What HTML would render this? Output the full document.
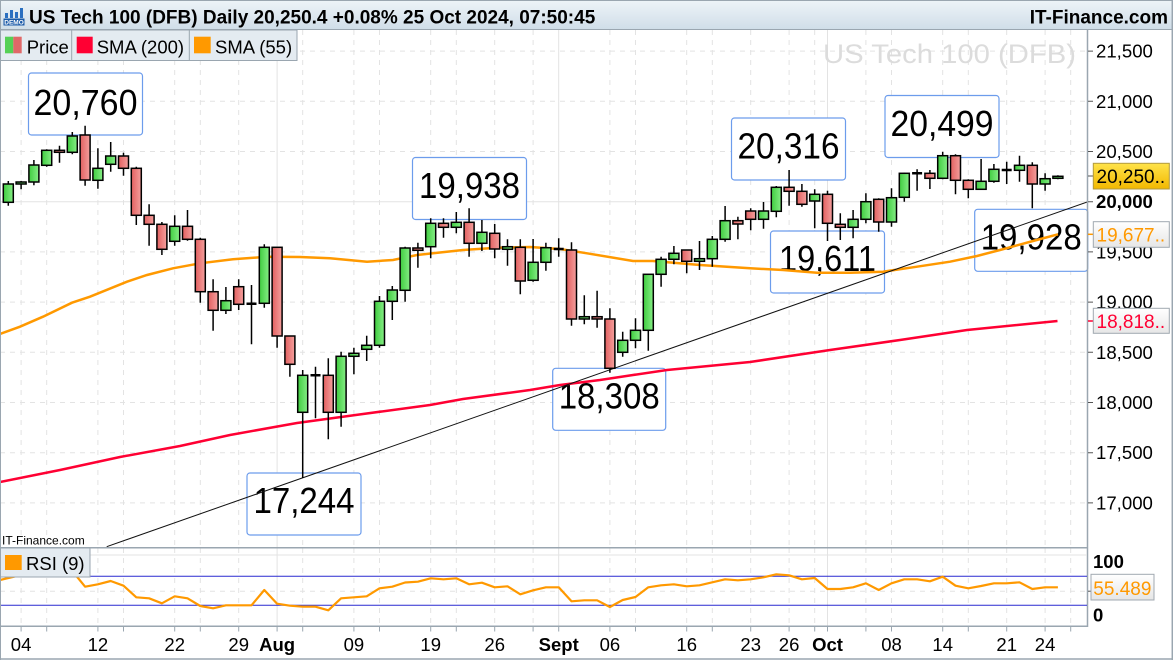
<!DOCTYPE html>
<html><head><meta charset="utf-8"><style>
html,body{margin:0;padding:0;background:#fff;}
svg{display:block;}
</style></head><body>
<svg width="1173" height="660" viewBox="0 0 1173 660" xmlns="http://www.w3.org/2000/svg" font-family="'Liberation Sans', Arial, sans-serif">
<defs>
<linearGradient id="hdr" x1="0" y1="0" x2="0" y2="1"><stop offset="0" stop-color="#eef4f8"/><stop offset="1" stop-color="#cfdde8"/></linearGradient>
<linearGradient id="gc" x1="0" y1="0" x2="1" y2="0"><stop offset="0" stop-color="#3fcc3f"/><stop offset="1" stop-color="#86ee86"/></linearGradient>
<linearGradient id="rc" x1="0" y1="0" x2="1" y2="0"><stop offset="0" stop-color="#e26060"/><stop offset="1" stop-color="#f4a09e"/></linearGradient>
<linearGradient id="yb" x1="0" y1="0" x2="0" y2="1"><stop offset="0" stop-color="#ffe34a"/><stop offset="1" stop-color="#f2b800"/></linearGradient>
<linearGradient id="wb" x1="0" y1="0" x2="0" y2="1"><stop offset="0" stop-color="#ffffff"/><stop offset="1" stop-color="#e6e6e6"/></linearGradient>
<clipPath id="cp"><rect x="0" y="30" width="1088" height="517.5"/></clipPath>
<clipPath id="cr"><rect x="0" y="548" width="1087" height="78"/></clipPath>
</defs>
<rect x="0" y="0" width="1173" height="660" fill="#fff"/>

<!-- price grid -->
<g clip-path="url(#cp)" stroke="#e3e3e3" stroke-width="1" fill="none">
<g stroke-dasharray="5 5">
<path d="M0 51.1H1088M0 101.3H1088M0 151.5H1088M0 251.9H1088M0 302.1H1088M0 352.3H1088M0 402.5H1088M0 452.7H1088M0 502.9H1088"/>
<path d="M21.1 30V548M46.7 30V548M97.9 30V548M123.5 30V548M174.7 30V548M200.3 30V548M238.7 30V548M302.7 30V548M353.9 30V548M379.5 30V548M430.7 30V548M456.3 30V548M494.7 30V548M533.1 30V548M609.9 30V548M635.5 30V548M686.7 30V548M712.3 30V548M750.7 30V548M789.1 30V548M814.7 30V548M865.9 30V548M891.5 30V548M942.7 30V548M968.3 30V548M1006.7 30V548M1045.1 30V548M1070.7 30V548"/>
</g>
<path d="M0 201.7H1088M277.1 30V548M558.7 30V548M827.5 30V548"/>
</g>

<!-- watermark -->
<text x="823" y="63" font-size="27" fill="#dcdcdc" textLength="253" lengthAdjust="spacingAndGlyphs">US Tech 100 (DFB)</text>

<!-- callouts -->
<g fill="#fff" stroke="#6c9cec" stroke-width="1.2">
<rect x="28.5" y="73" width="114" height="62" rx="3"/>
<rect x="412.5" y="157.5" width="114" height="62" rx="3"/>
<rect x="731.5" y="118" width="114" height="62" rx="3"/>
<rect x="770.5" y="231" width="114" height="62" rx="3"/>
<rect x="885" y="95.5" width="114" height="62" rx="3"/>
<rect x="974.7" y="209.3" width="113" height="62" rx="3"/>
<rect x="552.7" y="368.3" width="113" height="62" rx="3"/>
<rect x="247" y="473" width="114" height="62" rx="3"/>
</g>
<g font-size="36" fill="#000" text-anchor="middle">
<text x="85.5" y="115" textLength="104" lengthAdjust="spacingAndGlyphs">20,760</text>
<text x="469.5" y="198" textLength="101" lengthAdjust="spacingAndGlyphs">19,938</text>
<text x="788.5" y="158.5" textLength="102" lengthAdjust="spacingAndGlyphs">20,316</text>
<text x="827.5" y="271" textLength="97" lengthAdjust="spacingAndGlyphs">19,611</text>
<text x="942" y="136" textLength="103" lengthAdjust="spacingAndGlyphs">20,499</text>
<text x="1031.2" y="249.5" textLength="101" lengthAdjust="spacingAndGlyphs">19,928</text>
<text x="609.2" y="408.5" textLength="101" lengthAdjust="spacingAndGlyphs">18,308</text>
<text x="304" y="513" textLength="101" lengthAdjust="spacingAndGlyphs">17,244</text>
</g>

<!-- lines -->
<g clip-path="url(#cp)" fill="none">
<polyline stroke="#ff0033" stroke-width="2.5" points="0,482 60,470 120,457 180,446 230,435 297,423 363,414 430,405 463,399 530,390 560,385 600,380 633,375 667,370 750,362 830,350 900,340 967,330 1057.5,321"/>
<polyline stroke="#ff9900" stroke-width="2.5" points="0,334 20,326.7 43,316.7 72,302.7 90,296.7 127,281.7 147,275 173,268.3 200,263.3 233,259.3 267,256.7 300,257 330,258.3 367,261.7 393,260 417,255 463,250 497,247.7 530,247 560,249 587,253.3 633,261 653,261 700,265 750,268.3 783,270 817,272.7 850,272.7 883,271.7 917,266.7 950,261.7 977,256 1000,250 1033,241 1058,234.3"/>
<line x1="106.7" y1="546.7" x2="1088" y2="201.7" stroke="#111" stroke-width="1"/>
</g>

<!-- candles -->
<g clip-path="url(#cp)">
<path fill="none" stroke="#000" stroke-width="1.5" d="M8.3 181V205.7M21.1 181V189.3M33.9 160V185.3M46.7 149.3V166.7M59.5 145.7V162.7M72.3 132V154.3M85.1 125.7V185.7M97.9 148.3V188.7M110.7 142V171.7M123.5 152.7V175.7M136.3 166.7V225M149.1 204.3V245.7M161.9 222V255M174.7 215.3V245.7M187.5 210V240.7M200.3 237.7V302.7M213.1 279.3V330.7M225.9 287V314M238.7 279.3V310M251.5 285V344.3M264.3 244.3V307.7M277.1 247.3V347.7M289.9 336V376.7M302.7 370V478M315.5 366.7V418.3M328.3 358.3V439.3M341.1 351.7V426.7M353.9 347.7V374.3M366.7 335.7V361M379.5 296V347.7M392.3 286V320M405.1 246.7V301.7M417.9 242.7V267.7M430.7 218.3V258.3M443.5 218.3V237.7M456.3 212V233.3M469.1 208.3V256.7M481.9 220V251M494.7 224V258.3M507.5 239.3V265.7M520.3 239.3V294.3M533.1 239V281.7M545.9 242.7V270.7M558.7 238.3V256.7M571.5 242.3V325.7M584.3 295.3V324.3M597.1 290.7V327.7M609.9 308.3V372.7M622.7 331.7V356.7M635.5 318.3V348.3M648.3 274.3V350.7M661.1 256.7V286.7M673.9 246V264.3M686.7 250V273.3M699.5 241V270M712.3 236V266.7M725.1 206V241.7M737.9 216.7V239.3M750.7 208.3V230.3M763.5 202V228.7M776.3 186V217.3M789.1 170V205.7M801.9 184V206.7M814.7 189.3V228.3M827.5 190.7V241M840.3 213.3V240M853.1 210V238.3M865.9 193.3V223.3M878.7 198.3V231.7M891.5 188.3V226.7M904.3 172.7V201.7M917.1 169.3V190.7M929.9 170V189M942.7 151.7V179.3M955.5 154.3V194.3M968.3 179.3V198.3M981.1 159V189.3M993.9 164V182.7M1006.7 161.7V184M1019.5 155.7V181.7M1032.3 162.3V208.3M1045.1 173.3V190.7M1057.9 175.3V179.3"/>
<path fill="none" stroke="#000" stroke-width="2.5" d="M246.5 303.7H256.5M310.5 375.3H320.5M553.7 249H563.7M912.1 173.3H922.1M1001.7 170H1011.7"/>
<g stroke="#000" stroke-width="1.5" fill="url(#gc)">
<rect x="3.3" y="184" width="10" height="18.3"/>
<rect x="16.1" y="182" width="10" height="2"/>
<rect x="28.9" y="165" width="10" height="17"/>
<rect x="41.7" y="150.3" width="10" height="15"/>
<rect x="67.3" y="136" width="10" height="16.3"/>
<rect x="92.9" y="168.3" width="10" height="12"/>
<rect x="105.7" y="156" width="10" height="8.3"/>
<rect x="169.7" y="226.3" width="10" height="15"/>
<rect x="220.9" y="300.7" width="10" height="9.6"/>
<rect x="259.3" y="247.3" width="10" height="56"/>
<rect x="297.7" y="375.3" width="10" height="37"/>
<rect x="336.1" y="356.3" width="10" height="56"/>
<rect x="348.9" y="353.3" width="10" height="3"/>
<rect x="361.7" y="345.3" width="10" height="4"/>
<rect x="374.5" y="301.3" width="10" height="44"/>
<rect x="387.3" y="290" width="10" height="11.3"/>
<rect x="400.1" y="248" width="10" height="42.3"/>
<rect x="425.7" y="223.3" width="10" height="23.4"/>
<rect x="451.3" y="222.3" width="10" height="5"/>
<rect x="476.9" y="232.3" width="10" height="11"/>
<rect x="502.5" y="246.7" width="10" height="2.6"/>
<rect x="528.1" y="262.3" width="10" height="18"/>
<rect x="540.9" y="247.7" width="10" height="14.6"/>
<rect x="579.3" y="316.7" width="10" height="2.3"/>
<rect x="617.7" y="340.3" width="10" height="12"/>
<rect x="630.5" y="330.3" width="10" height="10"/>
<rect x="643.3" y="274.3" width="10" height="56"/>
<rect x="656.1" y="259.3" width="10" height="15"/>
<rect x="668.9" y="253.3" width="10" height="6"/>
<rect x="694.5" y="258.7" width="10" height="2.6"/>
<rect x="707.3" y="239.3" width="10" height="19.4"/>
<rect x="720.1" y="220.7" width="10" height="18.6"/>
<rect x="758.5" y="211" width="10" height="8.3"/>
<rect x="771.3" y="187.3" width="10" height="24"/>
<rect x="809.7" y="194.3" width="10" height="6.7"/>
<rect x="848.1" y="219.3" width="10" height="8"/>
<rect x="860.9" y="201.7" width="10" height="17.6"/>
<rect x="886.5" y="197.7" width="10" height="24.3"/>
<rect x="899.3" y="173.3" width="10" height="24"/>
<rect x="937.7" y="155.7" width="10" height="22.6"/>
<rect x="976.1" y="181.3" width="10" height="8"/>
<rect x="988.9" y="169.3" width="10" height="12"/>
<rect x="1014.5" y="165.3" width="10" height="5"/>
<rect x="1040.1" y="178.7" width="10" height="5.3"/>
<rect x="1052.9" y="176.3" width="10" height="2"/>
</g>
<g stroke="#000" stroke-width="1.5" fill="url(#rc)">
<rect x="54.5" y="150.3" width="10" height="2"/>
<rect x="80.1" y="135" width="10" height="45"/>
<rect x="118.5" y="156" width="10" height="12.3"/>
<rect x="131.3" y="168.3" width="10" height="47"/>
<rect x="144.1" y="215.3" width="10" height="9"/>
<rect x="156.9" y="224.3" width="10" height="25"/>
<rect x="182.5" y="226.3" width="10" height="13"/>
<rect x="195.3" y="239.3" width="10" height="52.4"/>
<rect x="208.1" y="291.7" width="10" height="18.6"/>
<rect x="233.7" y="286.7" width="10" height="17.6"/>
<rect x="272.1" y="247.3" width="10" height="88.7"/>
<rect x="284.9" y="336" width="10" height="28.3"/>
<rect x="323.3" y="375.3" width="10" height="37"/>
<rect x="412.9" y="248" width="10" height="2.3"/>
<rect x="438.5" y="223.3" width="10" height="4"/>
<rect x="464.1" y="222.3" width="10" height="21"/>
<rect x="489.7" y="233.3" width="10" height="15.7"/>
<rect x="515.3" y="247.3" width="10" height="33.7"/>
<rect x="566.5" y="250" width="10" height="69"/>
<rect x="592.1" y="316.7" width="10" height="2.3"/>
<rect x="604.9" y="319" width="10" height="49.3"/>
<rect x="681.7" y="250" width="10" height="11.3"/>
<rect x="732.9" y="220.7" width="10" height="3.3"/>
<rect x="745.7" y="211" width="10" height="8.3"/>
<rect x="784.1" y="187.3" width="10" height="4"/>
<rect x="796.9" y="191.3" width="10" height="13"/>
<rect x="822.5" y="194.3" width="10" height="29"/>
<rect x="835.3" y="224.3" width="10" height="3"/>
<rect x="873.7" y="199.3" width="10" height="22.7"/>
<rect x="924.9" y="173.3" width="10" height="5"/>
<rect x="950.5" y="155.7" width="10" height="24.6"/>
<rect x="963.3" y="180.3" width="10" height="9"/>
<rect x="1027.3" y="165.3" width="10" height="18.7"/>
</g>
</g>

<!-- header -->
<rect x="0" y="0" width="1173" height="30" fill="url(#hdr)"/>
<line x1="0" y1="29.5" x2="1173" y2="29.5" stroke="#9aa6b0" stroke-width="1"/>
<line x1="0" y1="0.5" x2="1173" y2="0.5" stroke="#9aa6b0" stroke-width="1"/>
<g>
<rect x="5" y="13" width="3" height="5" fill="#2a6fc0"/>
<rect x="10" y="10" width="3" height="8" fill="#2a6fc0"/>
<rect x="15" y="12" width="3" height="6" fill="#2a6fc0"/>
<rect x="20" y="8" width="3" height="10" fill="#2a6fc0"/>
<rect x="3.5" y="18.5" width="21" height="7" fill="#1a5aa8"/>
<text x="14" y="24.5" font-size="6.5" font-weight="bold" fill="#fff" text-anchor="middle">DEMO</text>
</g>
<text x="29" y="23.5" font-size="19" font-weight="bold" fill="#000">US Tech 100 (DFB) Daily 20,250.4 +0.08% 25 Oct 2024, 07:50:45</text>
<text x="1168" y="23.5" font-size="19" font-weight="bold" fill="#000" text-anchor="end">IT-Finance.com</text>

<!-- legend -->
<rect x="0.5" y="30" width="296.5" height="30.5" fill="#e4ebf1" stroke="#9aa6b0" stroke-width="1"/>
<line x1="71.7" y1="30" x2="71.7" y2="60.5" stroke="#9aa6b0"/>
<line x1="189.3" y1="30" x2="189.3" y2="60.5" stroke="#9aa6b0"/>
<rect x="5" y="36.7" width="8.3" height="16.6" fill="#55d055"/>
<rect x="13.3" y="36.7" width="8.4" height="16.6" fill="#e06868"/>
<text x="26.7" y="53.3" font-size="18.5" fill="#000">Price</text>
<rect x="76.7" y="36.7" width="16" height="16.6" fill="#ff0033"/>
<text x="96.7" y="53.3" font-size="18.5" fill="#000">SMA (200)</text>
<rect x="194" y="36.7" width="16.7" height="16.6" fill="#ff9900"/>
<text x="215" y="53.3" font-size="18.5" fill="#000">SMA (55)</text>

<!-- small watermark -->
<text x="2" y="544.5" font-size="12" fill="#000">IT-Finance.com</text>

<!-- right axis -->
<line x1="1087.5" y1="30" x2="1087.5" y2="627" stroke="#9aa6b0" stroke-width="1.5"/>
<path d="M1088 51.1H1093M1088 101.3H1093M1088 151.5H1093M1088 201.7H1093M1088 251.9H1093M1088 302.1H1093M1088 352.3H1093M1088 402.5H1093M1088 452.7H1093M1088 502.9H1093M1088 176H1093" stroke="#555" stroke-width="1"/>
<g font-size="18.6" fill="#000">
<text x="1096" y="57.6">21,500</text>
<text x="1096" y="107.8">21,000</text>
<text x="1096" y="158">20,500</text>
<text x="1096" y="208.2" font-weight="bold">20,000</text>
<text x="1096" y="258.4">19,500</text>
<text x="1096" y="308.6">19,000</text>
<text x="1096" y="358.8">18,500</text>
<text x="1096" y="409">18,000</text>
<text x="1096" y="459.2">17,500</text>
<text x="1096" y="509.4">17,000</text>
</g>
<rect x="1093.3" y="163.3" width="76" height="25.7" fill="url(#yb)" stroke="#b09a40" stroke-width="1"/>
<text x="1096.5" y="183" font-size="19" fill="#000">20,250..</text>
<path d="M1088 234.3H1093" stroke="#ff9900" stroke-width="1.5"/>
<rect x="1093.3" y="221.7" width="76" height="25.6" fill="url(#wb)" stroke="#a0a8b0" stroke-width="1"/>
<text x="1096.5" y="241.5" font-size="19" fill="#ff9900">19,677..</text>
<path d="M1088 321H1093" stroke="#ff0033" stroke-width="1.5"/>
<rect x="1093.3" y="308.3" width="76" height="25" fill="url(#wb)" stroke="#a0a8b0" stroke-width="1"/>
<text x="1096.5" y="328" font-size="19" fill="#ff0033">18,818..</text>

<!-- RSI panel -->
<g clip-path="url(#cr)" fill="none" stroke="#e3e3e3" stroke-width="1">
<path d="M0 555H1087"/>
<path stroke-dasharray="5 5" d="M0 591.2H1087M21.1 548V626M46.7 548V626M97.9 548V626M123.5 548V626M174.7 548V626M200.3 548V626M238.7 548V626M302.7 548V626M353.9 548V626M379.5 548V626M430.7 548V626M456.3 548V626M494.7 548V626M533.1 548V626M609.9 548V626M635.5 548V626M686.7 548V626M712.3 548V626M750.7 548V626M789.1 548V626M814.7 548V626M865.9 548V626M891.5 548V626M942.7 548V626M968.3 548V626M1006.7 548V626M1045.1 548V626M1070.7 548V626"/>
<path d="M277.1 548V626M558.7 548V626M827.5 548V626"/>
<path stroke="#2a2ad0" d="M0 576.3H1087M0 605.3H1087"/>
<polyline stroke="#ff9900" stroke-width="2.2" stroke-linejoin="round" points="0,580 8.3,578 21.1,575 33.9,572 46.7,570 59.5,568 72.3,571 85.1,586.7 97.9,584.3 110.7,581 123.5,585.7 136.3,597.3 149.1,598.3 161.9,603.3 174.7,596.3 187.5,598.3 200.3,606 213.1,608.3 225.9,605.3 238.7,605.3 251.5,605.3 264.3,590 277.1,603.7 289.9,605.7 302.7,606.7 315.5,606.7 328.3,610.3 341.1,598.3 353.9,597.3 366.7,596.3 379.5,588.3 392.3,586.7 405.1,582.5 417.9,581.7 430.7,578.3 443.5,579.3 456.3,578.3 469.1,584.3 481.9,582.7 494.7,587.3 507.5,586.3 520.3,594.3 533.1,590.3 545.9,587.3 558.7,587.3 571.5,601.3 584.3,600.3 597.1,600.3 609.9,607 622.7,600 635.5,597 648.3,587.3 661.1,585.3 673.9,584.3 686.7,586.3 699.5,585.3 712.3,582.3 725.1,579.3 737.9,580.3 750.7,579.3 763.5,577.3 776.3,574.3 789.1,575.3 801.9,579.3 814.7,578 827.5,589 840.3,589 853.1,587.3 865.9,583.3 878.7,590 891.5,583.3 904.3,579.3 917.1,579.3 929.9,581.3 942.7,576.7 955.5,585.7 968.3,588.3 981.1,586 993.9,583.3 1006.7,583.3 1019.5,582.3 1032.3,589 1045.1,587.3 1057.9,587.3"/>
</g>
<line x1="0" y1="547.7" x2="1088" y2="547.7" stroke="#9aa6b0" stroke-width="1.5"/>
<line x1="0" y1="626.3" x2="1088" y2="626.3" stroke="#9aa6b0" stroke-width="1.5"/>
<rect x="0.5" y="548" width="89.5" height="29" fill="#e4ebf1" stroke="#9aa6b0" stroke-width="1"/>
<rect x="5" y="555" width="16.7" height="15" fill="#ff9900"/>
<text x="26" y="570" font-size="18.5" fill="#000">RSI (9)</text>
<path d="M1088 591.2H1092" stroke="#555"/>
<text x="1093" y="568" font-size="18.5" font-weight="bold" fill="#000">100</text>
<text x="1093" y="621.7" font-size="18.5" font-weight="bold" fill="#000">0</text>
<rect x="1091" y="574.3" width="63" height="25.7" fill="url(#wb)" stroke="#a0a8b0" stroke-width="1"/>
<text x="1093.3" y="595" font-size="19" fill="#ff9900">55.489</text>

<!-- x axis ticks & labels -->
<path stroke="#9aa6b0" stroke-width="1" d="M21.1 626V631.5M46.7 626V631.5M97.9 626V631.5M123.5 626V631.5M174.7 626V631.5M200.3 626V631.5M238.7 626V631.5M277.1 626V631.5M302.7 626V631.5M353.9 626V631.5M379.5 626V631.5M430.7 626V631.5M456.3 626V631.5M494.7 626V631.5M533.1 626V631.5M558.7 626V631.5M609.9 626V631.5M635.5 626V631.5M686.7 626V631.5M712.3 626V631.5M750.7 626V631.5M789.1 626V631.5M814.7 626V631.5M827.5 626V631.5M865.9 626V631.5M891.5 626V631.5M942.7 626V631.5M968.3 626V631.5M1006.7 626V631.5M1045.1 626V631.5M1070.7 626V631.5"/>
<g font-size="18.5" fill="#000" text-anchor="middle">
<text x="21.1" y="651">04</text>
<text x="97.9" y="651">12</text>
<text x="174.7" y="651">22</text>
<text x="238.7" y="651">29</text>
<text x="277.1" y="651" font-weight="bold">Aug</text>
<text x="353.9" y="651">09</text>
<text x="430.7" y="651">19</text>
<text x="494.7" y="651">26</text>
<text x="558.7" y="651" font-weight="bold">Sept</text>
<text x="609.9" y="651">06</text>
<text x="686.7" y="651">16</text>
<text x="750.7" y="651">23</text>
<text x="789.1" y="651">26</text>
<text x="827.5" y="651" font-weight="bold">Oct</text>
<text x="891.5" y="651">08</text>
<text x="942.7" y="651">14</text>
<text x="1006.7" y="651">21</text>
<text x="1045.1" y="651">24</text>
</g>

<!-- outer borders -->
<line x1="0" y1="659" x2="1173" y2="659" stroke="#9aa6b0" stroke-width="1.5"/>
<line x1="0.5" y1="0" x2="0.5" y2="660" stroke="#9aa6b0" stroke-width="1"/>
<line x1="1172.3" y1="0" x2="1172.3" y2="660" stroke="#9aa6b0" stroke-width="1.5"/>
</svg>
</body></html>
